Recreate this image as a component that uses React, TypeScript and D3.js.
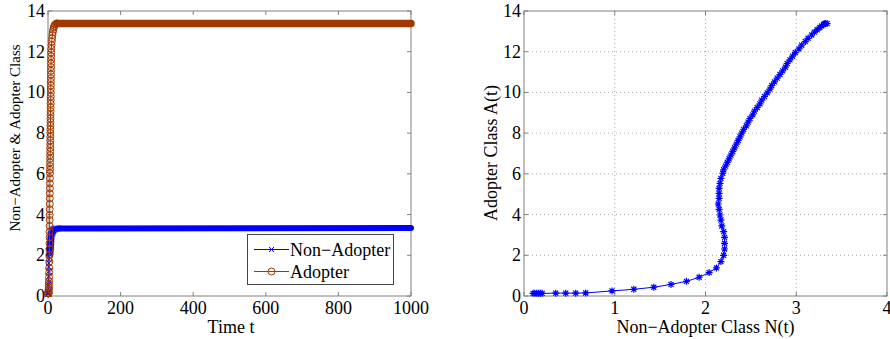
import React from 'react';
import * as d3 from 'd3';

// time samples of the solution (transient part, then the final time)
const timeT = [
  0, 0.2, 0.4, 0.6, 0.8, 1, 1.2, 1.4, 1.6, 1.8, 2, 2.2, 2.4, 2.6, 2.8, 3, 3.2, 3.4, 3.6, 3.8,
  4, 4.1, 4.2, 4.3, 4.4, 4.5, 4.6, 4.7, 4.8, 4.9, 5, 5.1, 5.2, 5.3, 5.4,
  5.5, 5.6, 5.7, 5.8, 5.9, 6, 6.1, 6.2, 6.3, 6.4, 6.5, 6.6, 6.7, 6.8, 6.9, 7, 7.1, 7.2, 7.3,
  7.4, 7.5, 7.6, 7.7, 7.8, 7.9, 8, 8.1, 8.2, 8.3, 8.4, 8.5, 8.6, 8.7,
  9.2, 9.8, 10.5, 11.3, 12.2, 13.2, 14.4, 15.8, 17.4, 19.3, 21.6, 24.5, 1000,
];
// Non-Adopter class N(t)
const nonAdopter = [
  0.1, 0.12, 0.14, 0.16, 0.18, 0.2, 0.35, 0.46, 0.57, 0.68, 0.97, 1.21, 1.43, 1.62, 1.79, 1.93,
  2.04, 2.12, 2.17, 2.2, 2.21, 2.21, 2.21, 2.2, 2.18, 2.17, 2.16, 2.15, 2.14, 2.15, 2.15, 2.15,
  2.16, 2.17, 2.19,
  2.2, 2.22, 2.24, 2.26, 2.28, 2.3, 2.32, 2.34, 2.36, 2.38, 2.4, 2.42, 2.45, 2.47, 2.49, 2.52,
  2.54, 2.57, 2.6, 2.62, 2.65, 2.68, 2.71, 2.73, 2.76, 2.79, 2.82, 2.85, 2.88, 2.9, 2.93, 2.96,
  2.99, 3.03, 3.06, 3.1, 3.13, 3.17, 3.2, 3.23, 3.26, 3.28, 3.3, 3.31, 3.32, 3.34,
];
// Adopter class A(t)
const adopter = [
  0.13, 0.13, 0.13, 0.13, 0.13, 0.13, 0.14, 0.14, 0.14, 0.15, 0.25, 0.33, 0.43, 0.57, 0.72, 0.92,
  1.15, 1.38, 1.69, 2.0, 2.31, 2.59, 2.88, 3.16, 3.44, 3.73, 3.98, 4.26, 4.52, 4.8, 5.04, 5.29,
  5.53, 5.78, 6.03,
  6.2, 6.38, 6.56, 6.74, 6.92, 7.1, 7.28, 7.46, 7.64, 7.82, 8.0, 8.18, 8.36, 8.54, 8.72, 8.9,
  9.08, 9.26, 9.44, 9.62, 9.8, 9.98, 10.16, 10.34, 10.52, 10.7, 10.88, 11.06, 11.24, 11.42, 11.6,
  11.78, 11.96, 12.14, 12.32, 12.5, 12.66, 12.82, 12.96, 13.08, 13.19, 13.27, 13.33, 13.37, 13.39,
  13.38,
];

const timeTicks = [0, 200, 400, 600, 800, 1000];
const nTicks = [0, 1, 2, 3, 4];
const classTicks = [0, 2, 4, 6, 8, 10, 12, 14];

const blue = '#0000ff';
const brown = '#a03800';
const axisGray = '#808080';
const font = '"Liberation Serif", "Times New Roman", serif';
const fs = 18;

const top = 11;
const bottom = 296;

const xTime = d3.scaleLinear().domain([0, 1000]).range([48, 411]);
const yLeft = d3.scaleLinear().domain([0, 14]).range([bottom, top]);
const xN = d3.scaleLinear().domain([0, 4]).range([524, 887]);
const yRight = d3.scaleLinear().domain([0, 14]).range([bottom, top]);

const xMark = (r: number) => `M${-r},${-r}L${r},${r}M${-r},${r}L${r},${-r}`;
const starMark = (r: number) => {
  const a = r * 0.72;
  return `M${-r},0H${r}M0,${-r}V${r}M${-a},${-a}L${a},${a}M${-a},${a}L${a},${-a}`;
};

function Frame({ x, y, xt, yt, grid }: any) {
  const [x0, x1] = x.range();
  const tl = 4;
  return (
    <g>
      {grid && xt.slice(1, -1).map((t: number) => (
        <line key={'gx' + t} x1={x(t)} x2={x(t)} y1={top} y2={bottom}
          stroke="#aaa" strokeWidth={1} strokeDasharray="1,3" />
      ))}
      {grid && yt.slice(1, -1).map((t: number) => (
        <line key={'gy' + t} x1={x0} x2={x1} y1={y(t)} y2={y(t)}
          stroke="#aaa" strokeWidth={1} strokeDasharray="1,3" />
      ))}
      <rect x={x0} y={top} width={x1 - x0} height={bottom - top} fill="none" stroke={axisGray} strokeWidth={1} />
      {xt.map((t: number) => (
        <g key={'xt' + t}>
          <line x1={x(t)} x2={x(t)} y1={bottom} y2={bottom - tl} stroke={axisGray} />
          <line x1={x(t)} x2={x(t)} y1={top} y2={top + tl} stroke={axisGray} />
          <text x={x(t)} y={314} textAnchor="middle" fontSize={fs} fontFamily={font}>{t}</text>
        </g>
      ))}
      {yt.map((t: number) => (
        <g key={'yt' + t}>
          <line x1={x0} x2={x0 + tl} y1={y(t)} y2={y(t)} stroke={axisGray} />
          <line x1={x1} x2={x1 - tl} y1={y(t)} y2={y(t)} stroke={axisGray} />
          <text x={x0 - 3} y={y(t) + 6} textAnchor="end" fontSize={fs} fontFamily={font}>{t}</text>
        </g>
      ))}
    </g>
  );
}

export default function App() {
  const last = timeT.length - 1;
  const transient = d3.range(last);

  const lineN = d3.line<number>().x(i => xTime(timeT[i])).y(i => yLeft(nonAdopter[i]));
  const lineA = d3.line<number>().x(i => xTime(timeT[i])).y(i => yLeft(adopter[i]));
  const allIdx = d3.range(timeT.length);
  const plateau = [last - 1, last];

  const phase = d3.line<number>().x(i => xN(nonAdopter[i])).y(i => yRight(adopter[i]));

  return (
    <svg width={890} height={339} style={{ position: 'absolute', left: 0, top: 0, background: '#fff' }}>
      {/* left panel */}
      <Frame x={xTime} y={yLeft} xt={timeTicks} yt={classTicks} grid={false} />
      <path d={lineN(allIdx) || ''} fill="none" stroke={blue} strokeWidth={1} />
      <path d={lineN(plateau) || ''} fill="none" stroke={blue} strokeWidth={6} strokeLinecap="round" />
      {transient.map(i => (
        <path key={'n' + i} d={xMark(3)} transform={`translate(${xTime(timeT[i])},${yLeft(nonAdopter[i])})`}
          stroke={blue} strokeWidth={1} fill="none" />
      ))}
      <path d={lineA(allIdx) || ''} fill="none" stroke={brown} strokeWidth={1} />
      <path d={lineA(plateau) || ''} fill="none" stroke={brown} strokeWidth={7.5} strokeLinecap="round" />
      {transient.map(i => (
        <circle key={'a' + i} cx={xTime(timeT[i])} cy={yLeft(adopter[i])} r={3.5}
          stroke={brown} strokeWidth={1} fill="none" />
      ))}
      {/* legend */}
      <rect x={247.5} y={234.5} width={146} height={50} fill="#fff" stroke="#444" strokeWidth={1} />
      <line x1={254} x2={289} y1={249.5} y2={249.5} stroke={blue} strokeWidth={1} />
      <path d={xMark(2.5)} transform="translate(271.5,249.5)" stroke={blue} strokeWidth={1} fill="none" />
      <text x={290} y={255.5} fontSize={fs} fontFamily={font}>Non−Adopter</text>
      <line x1={254} x2={289} y1={271.5} y2={271.5} stroke={brown} strokeWidth={1} />
      <circle cx={271.5} cy={271.5} r={3.5} stroke={brown} strokeWidth={1} fill="none" />
      <text x={290} y={277.5} fontSize={fs} fontFamily={font}>Adopter</text>
      <text x={231} y={333} textAnchor="middle" fontSize={fs} fontFamily={font}>Time t</text>
      <text transform="translate(20,138) rotate(-90)" textAnchor="middle" fontSize={15} fontFamily={font}>
        Non−Adopter &amp; Adopter Class
      </text>

      {/* right panel */}
      <Frame x={xN} y={yRight} xt={nTicks} yt={classTicks} grid={true} />
      <path d={phase(allIdx) || ''} fill="none" stroke={blue} strokeWidth={1} />
      {allIdx.map(i => (
        <path key={'p' + i} d={starMark(3.5)} transform={`translate(${xN(nonAdopter[i])},${yRight(adopter[i])})`}
          stroke={blue} strokeWidth={1.2} fill="none" />
      ))}
      <text x={705.5} y={333} textAnchor="middle" fontSize={fs} fontFamily={font}>Non−Adopter Class N(t)</text>
      <text transform="translate(497,153) rotate(-90)" textAnchor="middle" fontSize={fs} fontFamily={font}>
        Adopter Class A(t)
      </text>
    </svg>
  );
}
